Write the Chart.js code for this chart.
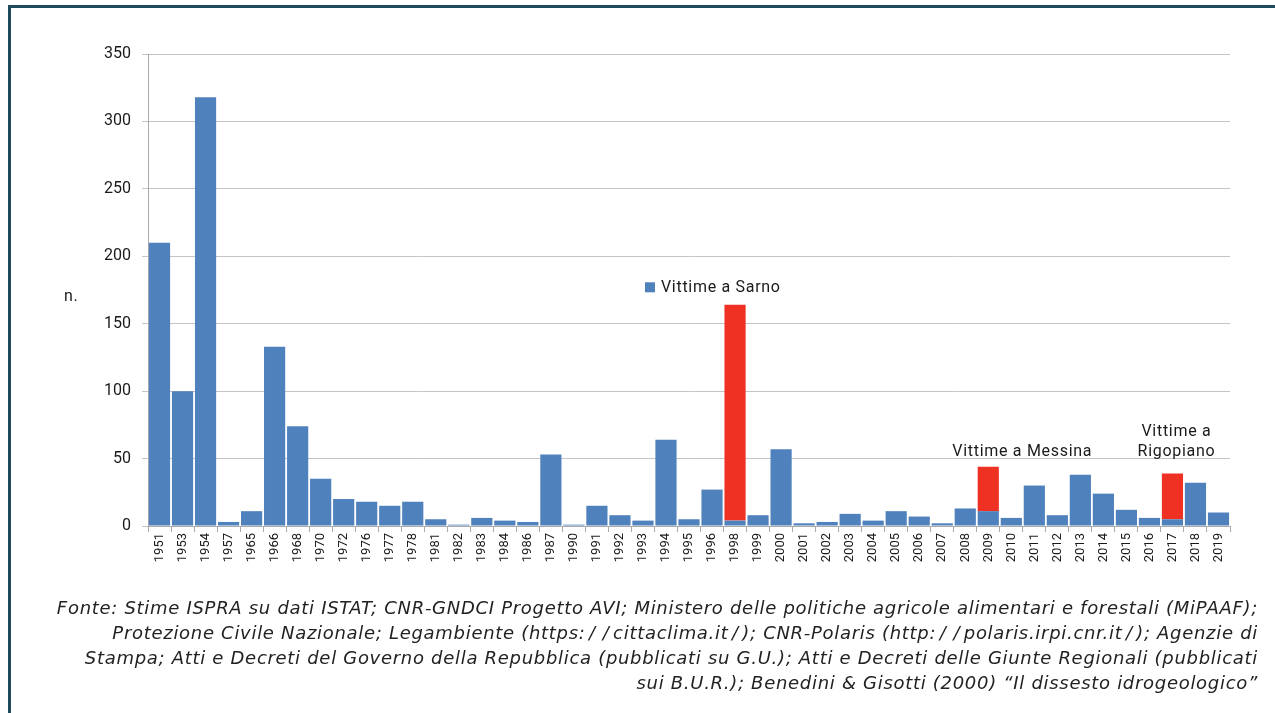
<!DOCTYPE html>
<html>
<head>
<meta charset="utf-8">
<script src="https://cdn.jsdelivr.net/npm/chart.js@4.4.1/dist/chart.umd.min.js"></script>
<style>
    html, body { margin: 0; padding: 0; background: #fff; }
    body { width: 1275px; height: 713px; position: relative; overflow: hidden; }
    #frame {
        position: absolute; left: 8px; top: 5px; width: 1280px; height: 720px;
        border: 3px solid #1e4a5a; box-sizing: border-box;
    }
    #wrap { position: absolute; left: 0; top: 0; width: 1275px; height: 600px; }
    #fonte {
        position: absolute; right: 17px; top: 595px;
        font-family: "DejaVu Sans", sans-serif; font-style: italic;
        font-size: 18px; letter-spacing: 0.7px; line-height: 25px; color: #222;
        text-align: right; white-space: nowrap;
    }
    #fonte .sl { margin: 0 3.5px; }
</style>
</head>
<body>
<div id="frame"></div>
<div id="wrap"><canvas id="grafico"></canvas></div>
<div id="fonte">
    Fonte: Stime ISPRA su dati ISTAT; CNR-GNDCI Progetto AVI; Ministero delle politiche agricole alimentari e forestali (MiPAAF);<br>
    Protezione Civile Nazionale; Legambiente (https:<span class="sl">/</span><span class="sl">/</span>cittaclima.it<span class="sl">/</span>); CNR-Polaris (http:<span class="sl">/</span><span class="sl">/</span>polaris.irpi.cnr.it<span class="sl">/</span>); Agenzie di<br>
    Stampa; Atti e Decreti del Governo della Repubblica (pubblicati su G.U.); Atti e Decreti delle Giunte Regionali (pubblicati<br>
    sui B.U.R.); Benedini &amp; Gisotti (2000) “Il dissesto idrogeologico”
</div>

<script>
// anni (asse x)
const anni = ["1951","1953","1954","1957","1965","1966","1968","1970","1972","1976",
    "1977","1978","1981","1982","1983","1984","1986","1987","1990","1991",
    "1992","1993","1994","1995","1996","1998","1999","2000","2001","2002",
    "2003","2004","2005","2006","2007","2008","2009","2010","2011","2012",
    "2013","2014","2015","2016","2017","2018","2019"];

// vittime (parte blu)
const vittime = [210, 100, 318, 3, 11, 133, 74, 35, 20, 18,
    15, 18, 5, 1, 6, 4, 3, 53, 1, 15,
    8, 4, 64, 5, 27, 4, 8, 57, 2, 3,
    9, 4, 11, 7, 2, 13, 11, 6, 30, 8,
    38, 24, 12, 6, 5, 32, 10];

// eventi singoli evidenziati in rosso
const eventi = { "1998": 160, "2009": 33, "2017": 34 };
const vittimeEventi = anni.map(a => eventi[a] !== undefined ? eventi[a] : null);

const yTicks = [0, 50, 100, 150, 200, 250, 300, 350];

const testoColore = "#1a1a1a";
const fontBase = "Roboto, sans-serif";

// scritte dentro al grafico (legenda, etichette eventi, "n.")
const scritte = {
    id: "scritte",
    afterDatasetsDraw(chart) {
        const ctx = chart.ctx;
        const x = chart.scales.x;
        const y = chart.scales.y;
        ctx.save();
        ctx.fillStyle = testoColore;
        ctx.font = "16px " + fontBase;
        ctx.letterSpacing = "0.7px";
        ctx.textBaseline = "middle";

        // "n."
        ctx.textAlign = "left";
        ctx.fillText("n.", 64, y.getPixelForValue(170));

        // legenda
        const lx = x.getPixelForValue(anni.indexOf("1994")) - 21;
        const ly = y.getPixelForValue(177);
        ctx.fillStyle = chart.data.datasets[0].backgroundColor;
        ctx.fillRect(lx, ly - 5, 10, 10);
        ctx.fillStyle = testoColore;
        ctx.fillText(chart.data.datasets[0].label, lx + 16, ly + 1);

        // etichette eventi
        ctx.textAlign = "center";
        const xm = x.getPixelForValue(anni.indexOf("2009")) + 34;
        ctx.fillText("Vittime a Messina", xm, y.getPixelForValue(55));
        const xr = x.getPixelForValue(anni.indexOf("2017")) + 4;
        ctx.fillText("Vittime a", xr, y.getPixelForValue(70));
        ctx.fillText("Rigopiano", xr, y.getPixelForValue(55));
        ctx.restore();
    }
};

new Chart(document.getElementById("grafico"), {
    type: "bar",
    data: {
        labels: anni,
        datasets: [
            {
                label: "Vittime a Sarno",
                data: vittime,
                backgroundColor: "#4f81bd",
                barPercentage: 0.92,
                categoryPercentage: 1
            },
            {
                label: "Eventi",
                data: vittimeEventi,
                backgroundColor: "#ef3124",
                barPercentage: 0.92,
                categoryPercentage: 1
            }
        ]
    },
    options: {
        responsive: true,
        maintainAspectRatio: false,
        animation: false,
        layout: { padding: { top: 54, right: 45, bottom: 0, left: 0 } },
        plugins: {
            legend: { display: false },
            tooltip: { enabled: false }
        },
        scales: {
            x: {
                stacked: true,
                afterFit: s => { s.height = 74; },
                grid: { drawOnChartArea: false, offset: true, tickLength: 6, color: "#aaa" },
                border: { color: "#aaa" },
                ticks: {
                    autoSkip: false, minRotation: 90, maxRotation: 90,
                    color: testoColore, font: { family: fontBase, size: 13 }, padding: 1
                }
            },
            y: {
                stacked: true,
                min: 0, max: 350,
                afterFit: s => { s.width = 148; },
                afterBuildTicks: s => { s.ticks = yTicks.map(v => ({ value: v })); },
                grid: { color: "#c4c4c4", tickLength: 6 },
                border: { color: "#aaa" },
                ticks: {
                    color: testoColore, font: { family: fontBase, size: 16 }, padding: 11
                }
            }
        }
    },
    plugins: [scritte]
});
</script>
</body>
</html>
